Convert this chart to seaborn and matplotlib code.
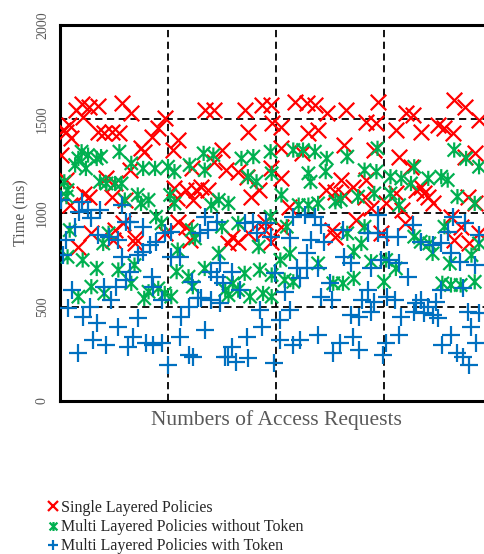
import numpy as np
import pandas as pd
import matplotlib
matplotlib.use("Agg")
import matplotlib.pyplot as plt
from matplotlib.path import Path
import seaborn as sns

# Response times (ms) against the index of the access request
single_x = [20, 15, 27, 35, 57, 21, 6, 10, 35, 41, 48, 55, 1, 6, 43, 51, 27, 48, 60, 9, 29, 51, 17, 58,
            22, 49, 3, 8,
            66, 97, 91, 85, 75, 78, 109, 105, 65, 122, 106, 117, 126, 108, 123, 109, 117, 69, 69, 97, 120,
            134, 143, 171, 187, 174, 150, 143, 154, 131, 137, 165, 173, 184, 177, 159, 165, 156, 174, 190, 190,
            218, 229, 236, 247, 195, 196, 205, 230, 239, 205, 224, 195, 205, 246, 255, 212, 195, 252, 255, 205,
            265, 294, 283, 293, 311, 320, 263, 291, 314, 260, 271, 283, 282, 288, 274, 302, 311, 317, 297, 319, 263,
            365, 375, 327, 350, 356, 364, 334, 388, 384, 375, 325, 330, 334, 341, 345, 337, 378, 384, 362, 371, 365, 379, 388]
single_y = [1580, 1548, 1565, 1569, 1587, 1512, 1432, 1397, 1432, 1423, 1432, 1423, 1308, 1175, 1184, 1157, 1087, 1087, 1069, 1042, 892, 909, 820, 945,
            1100, 856, 1440, 1470,
            1530, 1503, 1450, 1406, 1344, 1326, 1388, 1335, 1228, 1237, 1131, 1122, 1122, 1078, 1069, 954, 927, 865, 838, 892, 856,
            1548, 1548, 1548, 1574, 1432, 1335, 1273, 1228, 1140, 1122, 1220, 1193, 1122, 1087, 874, 847, 838, 892, 909, 954,
            1592, 1583, 1574, 1530, 1574, 1477, 1459, 1423, 1441, 1344, 1317, 1237, 1184, 1122, 1113, 1033, 847, 909, 874, 927,
            1548, 1592, 1485, 1477, 1441, 1530, 1361, 1335, 1300, 1175, 1140, 1175, 1087, 1025, 963, 1051, 1104, 1016, 892, 945, 1096,
            1601, 1565, 1521, 1468, 1450, 1423, 1432, 1494, 1317, 1300, 1246, 1122, 1140, 1087, 1051, 1104, 1087, 1051, 980, 927, 856, 838, 892]

multi_x = [20, 26, 17, 34, 38, 55, 14, 24, 4, 37, 43, 51, 57, 7, 6, 60, 9, 45, 40, 21, 7, 34, 54, 29, 17, 41,
           66, 77, 88, 100, 106, 120, 72, 82, 75, 102, 106, 89, 94, 122, 125, 109, 69, 108, 119, 66, 82, 91, 97, 103, 78, 123,
           133, 142, 134, 168, 179, 174, 182, 147, 140, 156, 165, 150, 184, 134, 147, 171, 185, 153, 160, 165, 156, 176, 188,
           195, 216, 225, 236, 247, 196, 230, 232, 246, 205, 221, 230, 239, 255, 195, 210, 213, 204, 239, 196, 208, 216, 196, 253,
           266, 294, 282, 293, 306, 316, 260, 276, 291, 306, 314, 282, 266, 279, 272, 288, 262, 272, 300, 311, 302,
           365, 376, 388, 328, 353, 359, 341, 325, 368, 384, 356, 328, 334, 342, 345, 361, 381, 388, 354, 362, 371, 384]
multi_y = [1326, 1308, 1290, 1290, 1300, 1326, 1255, 1237, 1166, 1166, 1157, 1157, 1157, 1122, 1087, 1069, 909, 892, 838, 750, 767, 705, 697, 608, 555, 572,
           1264, 1237, 1237, 1246, 1220, 1255, 1096, 1069, 1051, 1096, 1051, 980, 945, 909, 865, 803, 723, 688, 661, 626, 581, 599, 572, 555, 546, 608,
           1317, 1308, 1228, 1290, 1300, 1193, 1166, 1069, 1042, 1051, 945, 927, 821, 705, 785, 679, 697, 590, 626, 590, 563, 555, 572,
           1326, 1335, 1335, 1326, 1290, 1211, 1211, 1166, 1220, 1096, 1042, 1042, 1051, 1060, 980, 927, 785, 750, 732, 670, 643, 634, 555, 626,
           1300, 1344, 1228, 1220, 1193, 1184, 1069, 1087, 1104, 1104, 1042, 927, 892, 838, 794, 741, 626, 652, 634, 705, 750,
           1335, 1290, 1246, 1246, 1193, 1175, 1184, 1157, 1087, 1051, 927, 874, 847, 838, 785, 732, 776, 838, 626, 617, 617, 634]

token_x = [1, 20, 26, 37, 18, 29, 57, 61, 14, 6, 35, 45, 54, 3, 57, 11, 41, 52, 47, 61, 7, 28, 21, 34, 54, 31, 43, 17, 63,
           65, 77, 97, 103, 89, 83, 77, 72, 103, 111, 65, 85, 122, 86, 94, 128, 119, 72, 112, 68, 80, 94, 86, 111, 119, 123, 100,
           134, 145, 137, 130, 171, 179, 182, 191, 148, 159, 140, 145, 151, 167, 131, 140, 148, 185, 134, 173, 187, 159, 156, 163, 174, 153,
           216, 227, 236, 242, 244, 195, 213, 232, 229, 199, 219, 229, 239, 222, 208, 250, 242, 252, 213, 204, 204, 216, 222, 239, 253, 198,
           294, 262, 285, 294, 303, 313, 297, 305, 314, 263, 269, 288, 322, 285, 280, 291, 303, 310, 269, 277, 288, 316, 314, 271, 277, 259, 302, 299,
           327, 334, 345, 353, 359, 364, 375, 388, 362, 370, 384, 353, 373, 334, 330, 341, 348, 337, 350, 345, 378, 388, 381, 328, 362, 354, 368, 373, 379, 385]
token_y = [1069, 1060, 1016, 1016, 1007, 971, 1042, 954, 927, 856, 883, 874, 856, 776, 767, 590, 608, 608, 537, 643, 493, 502, 448, 413, 395, 324, 298, 253, 289,
           954, 927, 892, 900, 847, 830, 794, 776, 767, 767, 688, 661, 634, 608, 537, 546, 502, 440, 448, 342, 307, 307, 298, 342, 245, 236, 191,
           980, 954, 909, 892, 945, 954, 892, 945, 732, 688, 688, 661, 626, 590, 546, 537, 519, 484, 377, 342, 395, 289, 236, 209, 227, 236,
           980, 989, 980, 936, 847, 874, 865, 856, 785, 679, 705, 705, 705, 652, 581, 626, 555, 537, 484, 431, 324, 298, 324, 351, 253, 200,
           989, 909, 892, 892, 874, 874, 750, 750, 732, 767, 732, 705, 661, 590, 537, 528, 555, 537, 457, 448, 475, 448, 351, 342, 271, 307, 307, 245,
           936, 847, 830, 838, 900, 980, 945, 883, 785, 741, 723, 590, 599, 537, 519, 502, 528, 466, 440, 457, 475, 466, 395, 475, 351, 298, 253, 236, 191, 307]

labels = ["Single Layered Policies",
          "Multi Layered Policies without Token",
          "Multi Layered Policies with Token"]
colors = ["#FF0000", "#00B050", "#0070C0"]

df = pd.concat([
    pd.DataFrame({"request": single_x, "time": single_y, "series": labels[0]}),
    pd.DataFrame({"request": multi_x, "time": multi_y, "series": labels[1]}),
    pd.DataFrame({"request": token_x, "time": token_y, "series": labels[2]}),
], ignore_index=True)

sns.set_theme(style="white")
plt.rcParams["font.family"] = ["Liberation Serif", "DejaVu Serif"]

# six-armed star: an "x" crossed by a vertical bar
star = Path([(-1, -1), (1, 1), (-1, 1), (1, -1), (0, -1.15), (0, 1.15)],
            [Path.MOVETO, Path.LINETO, Path.MOVETO, Path.LINETO, Path.MOVETO, Path.LINETO])
markers = ["x", star, "+"]
sizes = [125, 120, 150]

fig = plt.figure(figsize=(4.84, 5.54), dpi=100)
ax = fig.add_axes([60 / 484, 153 / 554, 432 / 484, 376 / 554])

handles = []
for lab, col, mk, sz in zip(labels, colors, markers, sizes):
    sub = df[df["series"] == lab]
    kw = dict(edgecolor=col, facecolor="none") if isinstance(mk, Path) else dict(color=col)
    sns.scatterplot(data=sub, x="request", y="time", ax=ax, marker=mk, s=sz,
                    linewidth=1.6, legend=False, zorder=3, **kw)
    handles.append(plt.Line2D([], [], linestyle="none", marker=mk, color=col,
                              markersize=6.5, markeredgewidth=1.6, markerfacecolor="none"))

ax.set_xlim(0, 400)
ax.set_ylim(0, 2000)
ax.set_xticks([0, 100, 200, 300, 400])
ax.set_xticklabels([])
ax.set_yticks([0, 500, 1000, 1500, 2000])
ax.set_yticklabels(["0", "500", "1000", "1500", "2000"], rotation=90, va="center",
                   color="#595959", fontsize=10)
ax.tick_params(axis="both", length=0)
ax.tick_params(axis="y", pad=8)

grid_kw = dict(color="black", linewidth=1.3, linestyle=(0, (4, 2.5)), zorder=1)
for gx in [100, 200, 300]:
    ax.axvline(gx, **grid_kw)
for gy in [500, 1000, 1500]:
    ax.axhline(gy, **grid_kw)

for side in ["left", "top", "bottom", "right"]:
    ax.spines[side].set_color("black")
    ax.spines[side].set_linewidth(2.2)

ax.set_ylabel("Time (ms)", color="#595959", fontsize=11.5, labelpad=5)
ax.set_xlabel("Numbers of Access Requests", color="#595959", fontsize=15.5, labelpad=3)

fig.legend(handles=handles, labels=labels, loc="upper left",
           bbox_to_anchor=(47 / 484, 1 - 500 / 554), frameon=False,
           fontsize=11.5, handlelength=0.7, handletextpad=0.2,
           labelspacing=0.2, borderpad=0, borderaxespad=0)

fig.savefig("out.png", dpi=100)
